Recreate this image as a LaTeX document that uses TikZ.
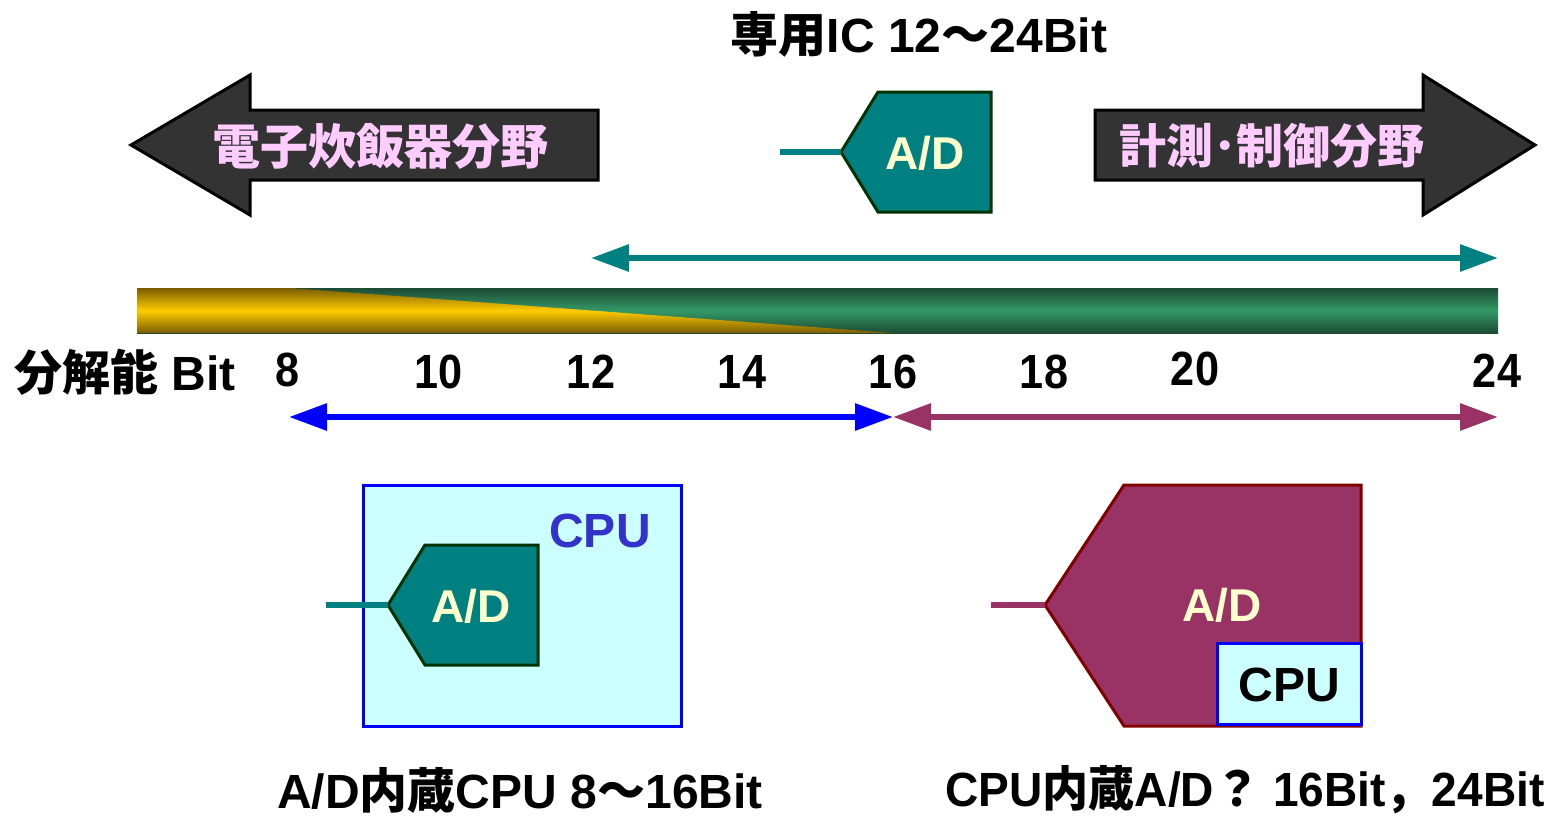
\documentclass[tikz,border=0pt]{standalone}
\usepackage{fontspec}
\setmainfont{Liberation Sans}
\newfontfamily\cjk{Noto Sans CJK JP}
\usetikzlibrary{arrows.meta}
\definecolor{tealc}{HTML}{008080}
\definecolor{tealbd}{HTML}{003300}
\definecolor{plum}{HTML}{993366}
\definecolor{plumbd}{HTML}{800000}
\definecolor{darkarr}{HTML}{333333}
\definecolor{pinktx}{HTML}{FFCCFF}
\definecolor{creamtx}{HTML}{FFFFCC}
\definecolor{cyanbg}{HTML}{CCFFFF}
\definecolor{cpublue}{HTML}{3333CC}
\definecolor{grdk}{HTML}{1D4B33}
\definecolor{grlt}{HTML}{339966}
\definecolor{yedk}{HTML}{7A5C00}
\definecolor{yelt}{HTML}{FFCC00}
\tikzset{
  txt/.style={font=\bfseries\fontsize{48}{50}\selectfont, inner sep=0pt},
  axislbl/.style={font=\bfseries\fontsize{48}{50}\selectfont, inner sep=0pt},
  bigarrow/.style={fill=darkarr, draw=black, line width=3pt, line join=miter},
  adteal/.style={fill=tealc, draw=tealbd, line width=3pt},
  adplum/.style={fill=plum, draw=plumbd, line width=3pt},
  adtxt/.style={font=\bfseries\fontsize{46}{48}\selectfont, text=creamtx, inner sep=0pt},
  lead/.style={line width=5.5pt},
  dbl/.style={line width=6pt, {Triangle[length=38pt,width=26pt]}-{Triangle[length=38pt,width=26pt]}},
  cpubox/.style={fill=cyanbg, draw=blue, line width=3pt}
}
\begin{document}
\begin{tikzpicture}[x=1pt,y=-1pt]
\useasboundingbox (0,0) rectangle (1552,817);

% title
\node[txt] (title) at (919,34) {{\cjk 専用}IC 12{\cjk ～}24Bit};

% big arrows
\draw[bigarrow] (598,110) -- (250,110) -- (250,75) -- (131,145) -- (250,215) -- (250,180) -- (598,180) -- cycle;
\node[txt, text=pinktx, font=\cjk\bfseries\fontsize{48}{50}\selectfont] (lefttxt) at (380,146) {電子炊飯器分野};
\draw[bigarrow] (1095,110) -- (1423,110) -- (1423,75) -- (1535,145) -- (1423,215) -- (1423,180) -- (1095,180) -- cycle;
\node[txt, text=pinktx, font=\cjk\bfseries\fontsize{47}{50}\selectfont] (righttxt) at (1272,146) {計測･制御分野};

% top A/D
\coordinate (topin) at (841,152);
\coordinate (topwire) at (780,152);
\draw[adteal] (topin) -- (878,92) -- (991,92) -- (991,212) -- (878,212) -- cycle;
\draw[lead, tealc] (topwire) -- (topin);
\node[adtxt] (topad) at (925,153) {A/D};

% teal range arrow
\coordinate (ta1) at (591,258);
\coordinate (ta2) at (1498,258);
\draw[dbl, tealc] (ta1) -- (ta2);

% gradient bar
\shade[top color=grdk, bottom color=grdk, middle color=grlt] (137,288) rectangle (1498,333);
\shade[top color=yedk, bottom color=yedk, middle color=yelt] (137,288) -- (290,288) -- (893,333) -- (137,333) -- cycle;

% axis labels
\node[axislbl, anchor=west] (reslbl) at (14,372) {{\cjk 分解能} Bit};
\node[axislbl] (t8) at (288,370) {\scalebox{0.9}[1]{8}};
\node[axislbl] (t10) at (439,372) {\scalebox{0.9}[1]{10}};
\node[axislbl] (t12) at (591,372) {\scalebox{0.9}[1]{12}};
\node[axislbl] (t14) at (742,372) {\scalebox{0.9}[1]{14}};
\node[axislbl] (t16) at (893,372) {\scalebox{0.9}[1]{16}};
\node[axislbl] (t18) at (1044,372) {\scalebox{0.9}[1]{18}};
\node[axislbl] (t20) at (1195,369) {\scalebox{0.9}[1]{20}};
\node[axislbl] (t24) at (1497,371) {\scalebox{0.9}[1]{24}};

% blue and plum range arrows
\coordinate (b1) at (289,417);
\coordinate (b2) at (893,417);
\coordinate (p2) at (1498,417);
\draw[dbl, blue] (b1) -- (b2);
\draw[dbl, plum] (b2) -- (p2);

% bottom-left: CPU with A/D
\draw[cpubox] (363,485) rectangle (681,726);
\node[txt, text=cpublue] (cpu1) at (600,531) {CPU};
\coordinate (blin) at (388,605);
\coordinate (blwire) at (326,605);
\draw[adteal] (blin) -- (425,545) -- (538,545) -- (538,665) -- (425,665) -- cycle;
\draw[lead, tealc] (blwire) -- (blin);
\node[adtxt] (blad) at (471,606) {A/D};

% bottom-right: A/D with CPU
\coordinate (brin) at (1045,605);
\coordinate (brwire) at (991,605);
\draw[adplum] (brin) -- (1124,485) -- (1361,485) -- (1361,726) -- (1124,726) -- cycle;
\draw[lead, plum] (brwire) -- (brin);
\node[adtxt] (brad) at (1222,605) {A/D};
\draw[cpubox] (1217,643) rectangle (1361,724);
\node[txt] (cpu2) at (1289,685) {CPU};

% bottom labels
\node[txt] (lbl1) at (520,790) {A/D{\cjk 内蔵}CPU 8{\cjk ～}16Bit};
\node[txt] (lbl2) at (1245,790) {\scalebox{0.96}[1]{CPU{\cjk 内蔵}A/D{\cjk ？} 16Bit{\cjk ，}24Bit}};
\end{tikzpicture}
\end{document}
